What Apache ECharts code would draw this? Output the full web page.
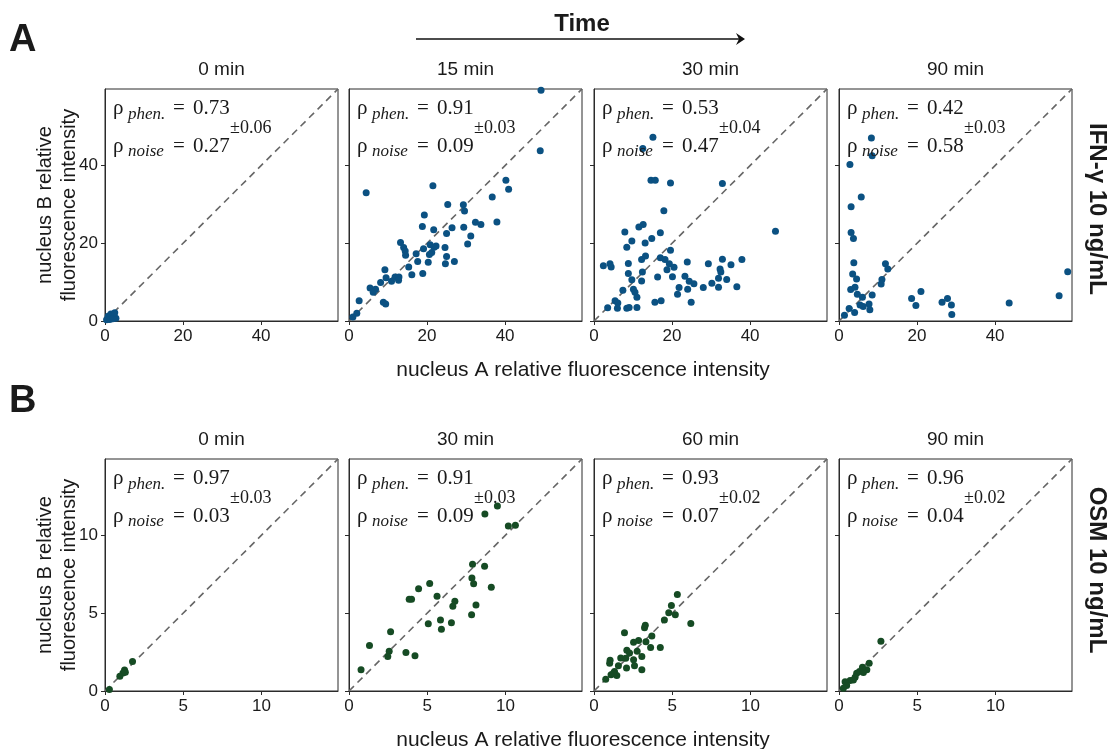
<!DOCTYPE html>
<html lang="en">
<head>
    <meta charset="UTF-8">
    <title>nucleus A vs nucleus B</title>
    <script src="https://cdn.jsdelivr.net/npm/echarts@6/dist/echarts.min.js"></script>
    <style>
        html, body { margin: 0; padding: 0; background: #fff; }
        #chart { width: 1108px; height: 749px; }
    </style>
</head>
<body>
    <div id="chart"></div>
    <script>
    // --- data ---
    const titlesA = ['0 min', '15 min', '30 min', '90 min'];
    const titlesB = ['0 min', '30 min', '60 min', '90 min'];
    const ticksA = [0, 20, 40];
    const ticksB = [0, 5, 10];
    const maxA = 59.7;
    const maxB = 14.9;

    const phenA = ['0.73', '0.91', '0.53', '0.42'];
    const noiseA = ['0.27', '0.09', '0.47', '0.58'];
    const pmA = ['0.06', '0.03', '0.04', '0.03'];
    const phenB = ['0.97', '0.91', '0.93', '0.96'];
    const noiseB = ['0.03', '0.09', '0.07', '0.04'];
    const pmB = ['0.03', '0.03', '0.02', '0.02'];

    const ifn0 = [[0.8, 1.2], [1.5, 1.8], [2.2, 1.5], [2.8, 0.7], [1.2, 0.4], [2.0, 0.6], [0.4, 0.3], [2.5, 2.1]];
    const ifn15 = [[49.2, 59.4], [49.0, 43.8], [4.4, 33.0], [21.5, 34.8], [40.2, 36.2], [40.9, 33.9], [36.7, 31.9],
        [29.3, 29.9], [25.3, 30.0], [29.6, 28.3], [19.3, 27.3], [18.8, 24.3], [21.7, 23.5], [26.4, 24.0], [29.4, 24.1],
        [32.4, 25.4], [33.8, 24.8], [37.9, 25.5], [25.0, 22.5], [31.2, 21.9], [30.4, 19.8], [13.2, 20.2], [14.0, 18.9],
        [14.4, 18.0], [14.5, 16.9], [17.2, 17.3], [20.8, 19.6], [21.8, 19.0], [22.3, 19.3], [21.2, 17.6], [20.6, 17.1],
        [19.1, 18.6], [24.6, 18.9], [25.0, 16.6], [24.7, 14.7], [27.0, 15.3], [20.3, 15.1], [17.6, 15.3], [15.3, 13.9],
        [16.1, 11.9], [18.9, 12.2], [9.2, 13.2], [11.8, 11.3], [12.8, 11.3], [10.9, 10.2], [12.7, 10.5], [9.5, 11.1],
        [8.1, 9.9], [5.4, 8.5], [6.8, 8.2], [6.2, 7.4], [8.8, 4.8], [9.4, 4.4], [2.6, 5.2], [2.0, 2.0], [1.0, 1.0]];
    const ifn30 = [[15.1, 47.3], [12.5, 44.4], [14.6, 36.2], [15.7, 36.2], [19.6, 35.5], [32.9, 35.4], [17.9, 28.4],
        [46.5, 23.1], [11.5, 24.2], [12.6, 24.8], [7.9, 22.9], [17.0, 22.7], [9.7, 20.6], [13.1, 20.1], [14.8, 21.2],
        [8.4, 19.0], [19.6, 18.2], [13.2, 16.7], [12.2, 15.8], [17.0, 16.3], [18.2, 15.8], [19.3, 14.7], [18.7, 13.2],
        [20.5, 13.8], [8.8, 14.8], [2.4, 14.2], [4.1, 14.7], [4.4, 13.9], [23.9, 15.2], [29.3, 14.7], [32.9, 15.9],
        [35.1, 14.5], [37.9, 15.8], [32.3, 13.4], [32.5, 12.6], [8.8, 12.2], [12.4, 12.6], [16.3, 11.3], [20.1, 11.4],
        [23.3, 11.5], [24.4, 10.2], [25.6, 9.6], [34.0, 10.7], [31.9, 11.0], [30.2, 9.7], [31.9, 8.7], [36.6, 8.8],
        [28.0, 8.6], [24.0, 8.2], [21.8, 8.6], [21.4, 6.9], [9.7, 10.6], [12.2, 10.3], [10.1, 8.2], [10.5, 7.4],
        [11.0, 6.1], [7.4, 7.9], [15.6, 4.8], [17.2, 5.2], [24.9, 4.8], [5.4, 5.2], [6.1, 4.6], [6.0, 3.3],
        [3.5, 3.4], [8.4, 3.3], [9.0, 3.5], [11.0, 3.5]];
    const ifn90 = [[8.3, 47.1], [8.5, 42.5], [2.8, 40.3], [5.7, 31.9], [3.1, 29.4], [3.1, 22.8], [3.7, 21.2],
        [3.8, 15.0], [3.5, 12.1], [4.5, 10.8], [11.9, 14.7], [12.5, 13.4], [11.0, 10.7], [10.8, 9.5], [3.0, 8.1],
        [4.1, 8.7], [4.7, 6.9], [6.0, 6.1], [8.5, 6.7], [7.7, 4.4], [7.9, 2.9], [5.4, 4.1], [6.2, 3.7], [2.6, 3.2],
        [4.0, 2.2], [1.4, 1.5], [21.0, 7.6], [18.6, 5.8], [19.7, 4.0], [26.4, 4.8], [27.8, 5.8], [28.8, 4.1],
        [28.9, 1.7], [43.6, 4.6], [56.4, 6.5], [58.6, 12.7]];

    const osm0 = [[1.76, 1.9], [1.25, 1.35], [1.15, 1.15], [0.95, 0.95], [1.3, 1.2], [0.28, 0.1]];
    const osm30 = [[9.49, 11.88], [8.69, 11.36], [10.19, 10.6], [10.64, 10.65], [7.9, 8.14], [8.67, 8.01], [7.86, 7.26],
        [7.97, 6.89], [9.1, 6.67], [5.16, 6.91], [4.45, 6.57], [3.85, 5.9], [4.0, 5.9], [5.63, 6.09], [6.77, 5.77],
        [6.64, 5.44], [8.12, 5.53], [7.84, 4.9], [5.07, 4.32], [5.85, 4.56], [5.91, 3.97], [6.55, 4.38], [2.66, 3.8],
        [1.31, 2.92], [2.57, 2.55], [2.48, 2.22], [3.64, 2.48], [4.22, 2.27], [0.77, 1.36]];
    const osm60 = [[5.33, 6.2], [4.95, 5.49], [5.2, 4.9], [4.78, 5.03], [4.5, 4.56], [6.19, 4.34], [3.28, 4.23],
        [3.23, 4.06], [1.95, 3.74], [3.7, 3.54], [2.85, 3.24], [2.53, 3.13], [3.32, 3.17], [3.62, 2.79], [4.24, 2.79],
        [2.1, 2.61], [2.27, 2.44], [2.76, 2.55], [3.06, 2.22], [1.71, 2.12], [1.03, 1.97], [1.0, 1.79], [2.03, 2.1],
        [2.53, 2.0], [2.59, 1.62], [2.08, 1.47], [3.06, 1.36], [1.56, 1.62], [1.31, 1.25], [1.46, 0.99], [1.09, 1.04],
        [0.75, 0.76], [1.24, 1.14]];
    const osm90 = [[2.68, 3.2], [1.93, 1.79], [1.78, 1.36], [1.5, 1.53], [1.31, 1.25], [1.13, 1.14], [1.03, 0.89],
        [0.71, 0.67], [0.39, 0.6], [0.49, 0.35], [0.28, 0.17], [1.56, 1.19], [0.92, 0.71]];

    const rowsData = [[ifn0, ifn15, ifn30, ifn90], [osm0, osm30, osm60, osm90]];

    // --- layout ---
    const lefts = [105, 349, 594, 839];
    const tops = [89, 459];
    const W = 233, H = 232;
    const colors = ['#0b5182', '#164b24'];
    const sans = 'Liberation Sans, Arial, sans-serif';
    const serif = 'Liberation Serif, Times New Roman, serif';
    const ink = '#1a1a1a';

    let grid = [], xAxis = [], yAxis = [], series = [], graphic = [];

    function txt(x, y, text, size, opts) {
        opts = opts || {};
        const align = opts.align || 'left';
        const va = opts.va || 'middle';
        return {
            type: 'text', x: x, y: y, z: 100, rotation: opts.rot || 0,
            style: {
                text: text, fill: opts.fill || ink,
                font: (opts.style || 'normal') + ' ' + (opts.weight || 'normal') + ' ' + size + 'px ' + (opts.family || sans),
                align: align, textAlign: align, verticalAlign: va, textVerticalAlign: va
            }
        };
    }

    for (let r = 0; r < 2; r++) {
        const max = r === 0 ? maxA : maxB;
        const ticks = r === 0 ? ticksA : ticksB;
        const titles = r === 0 ? titlesA : titlesB;
        const phen = r === 0 ? phenA : phenB;
        const noise = r === 0 ? noiseA : noiseB;
        const pm = r === 0 ? pmA : pmB;
        for (let c = 0; c < 4; c++) {
            const idx = r * 4 + c;
            grid.push({
                left: lefts[c], top: tops[r], width: W, height: H,
                show: true, borderColor: '#2b2b2b', borderWidth: 1, backgroundColor: '#fff'
            });
            const axisCommon = {
                gridIndex: idx, type: 'value', min: 0, max: max,
                splitLine: { show: false },
                axisLine: { show: true, onZero: false, lineStyle: { color: '#2b2b2b', width: 1 } },
                axisTick: { show: true, length: 4, lineStyle: { color: '#2b2b2b' }, customValues: ticks },
            };
            xAxis.push(Object.assign({}, axisCommon, {
                axisLabel: { show: true, customValues: ticks, fontSize: 17, color: ink, margin: 7, fontFamily: sans }
            }));
            yAxis.push(Object.assign({}, axisCommon, {
                axisLabel: { show: c === 0, customValues: ticks, fontSize: 17, color: ink, margin: 7, fontFamily: sans }
            }));
            series.push({
                type: 'line', xAxisIndex: idx, yAxisIndex: idx,
                data: [[0, 0], [max, max]], symbol: 'none', silent: true,
                lineStyle: { color: '#666', width: 1.6, type: [7, 5] }, z: 1
            });
            series.push({
                type: 'scatter', xAxisIndex: idx, yAxisIndex: idx,
                data: rowsData[r][c], symbolSize: 7,
                itemStyle: { color: colors[r], opacity: 1 }, z: 2
            });

            // panel title
            graphic.push(txt(lefts[c] + W / 2, tops[r] - 19, titles[c], 19, { align: 'center' }));
            // rho annotations
            const x0 = lefts[c], y0 = tops[r];
            graphic.push(txt(x0 + 8, y0 + 19, 'ρ', 21, { family: serif }));
            graphic.push(txt(x0 + 23, y0 + 26, 'phen.', 17, { family: serif, style: 'italic' }));
            graphic.push(txt(x0 + 68, y0 + 19, '=', 21, { family: serif }));
            graphic.push(txt(x0 + 88, y0 + 19, phen[c], 21, { family: serif }));
            graphic.push(txt(x0 + 8, y0 + 57, 'ρ', 21, { family: serif }));
            graphic.push(txt(x0 + 23, y0 + 63, 'noise', 17, { family: serif, style: 'italic' }));
            graphic.push(txt(x0 + 68, y0 + 57, '=', 21, { family: serif }));
            graphic.push(txt(x0 + 88, y0 + 57, noise[c], 21, { family: serif }));
            graphic.push(txt(x0 + 125, y0 + 39, '±' + pm[c], 18, { family: serif }));
        }
        // y-axis title
        const yc = tops[r] + H / 2;
        graphic.push(txt(45, yc, 'nucleus B relative', 20, { align: 'center', rot: Math.PI / 2 }));
        graphic.push(txt(69, yc, 'fluorescence intensity', 20, { align: 'center', rot: Math.PI / 2 }));
        // x-axis title
        graphic.push(txt(583, tops[r] + H + 49, 'nucleus A relative fluorescence intensity', 21, { align: 'center' }));
    }

    // side labels
    graphic.push(txt(1097, 209, 'IFN-γ 10 ng/mL', 24, { align: 'center', weight: 'bold', rot: -Math.PI / 2 }));
    graphic.push(txt(1097, 570, 'OSM 10 ng/mL', 24, { align: 'center', weight: 'bold', rot: -Math.PI / 2 }));
    // panel letters
    graphic.push(txt(9, 41, 'A', 38, { weight: 'bold' }));
    graphic.push(txt(9, 402, 'B', 38, { weight: 'bold' }));
    // time arrow
    graphic.push(txt(582, 24, 'Time', 24, { align: 'center', weight: 'bold' }));
    graphic.push({ type: 'line', z: 100, shape: { x1: 416, y1: 39, x2: 743, y2: 39 }, style: { stroke: '#111', lineWidth: 1.5 } });
    graphic.push({ type: 'polygon', z: 100, shape: { points: [[745, 39], [736, 33], [739, 39], [736, 45]] }, style: { fill: '#111' } });

    const chart = echarts.init(document.getElementById('chart'));
    chart.setOption({
        animation: false,
        backgroundColor: '#fff',
        grid: grid,
        xAxis: xAxis,
        yAxis: yAxis,
        series: series,
        graphic: graphic
    });
    </script>
</body>
</html>
